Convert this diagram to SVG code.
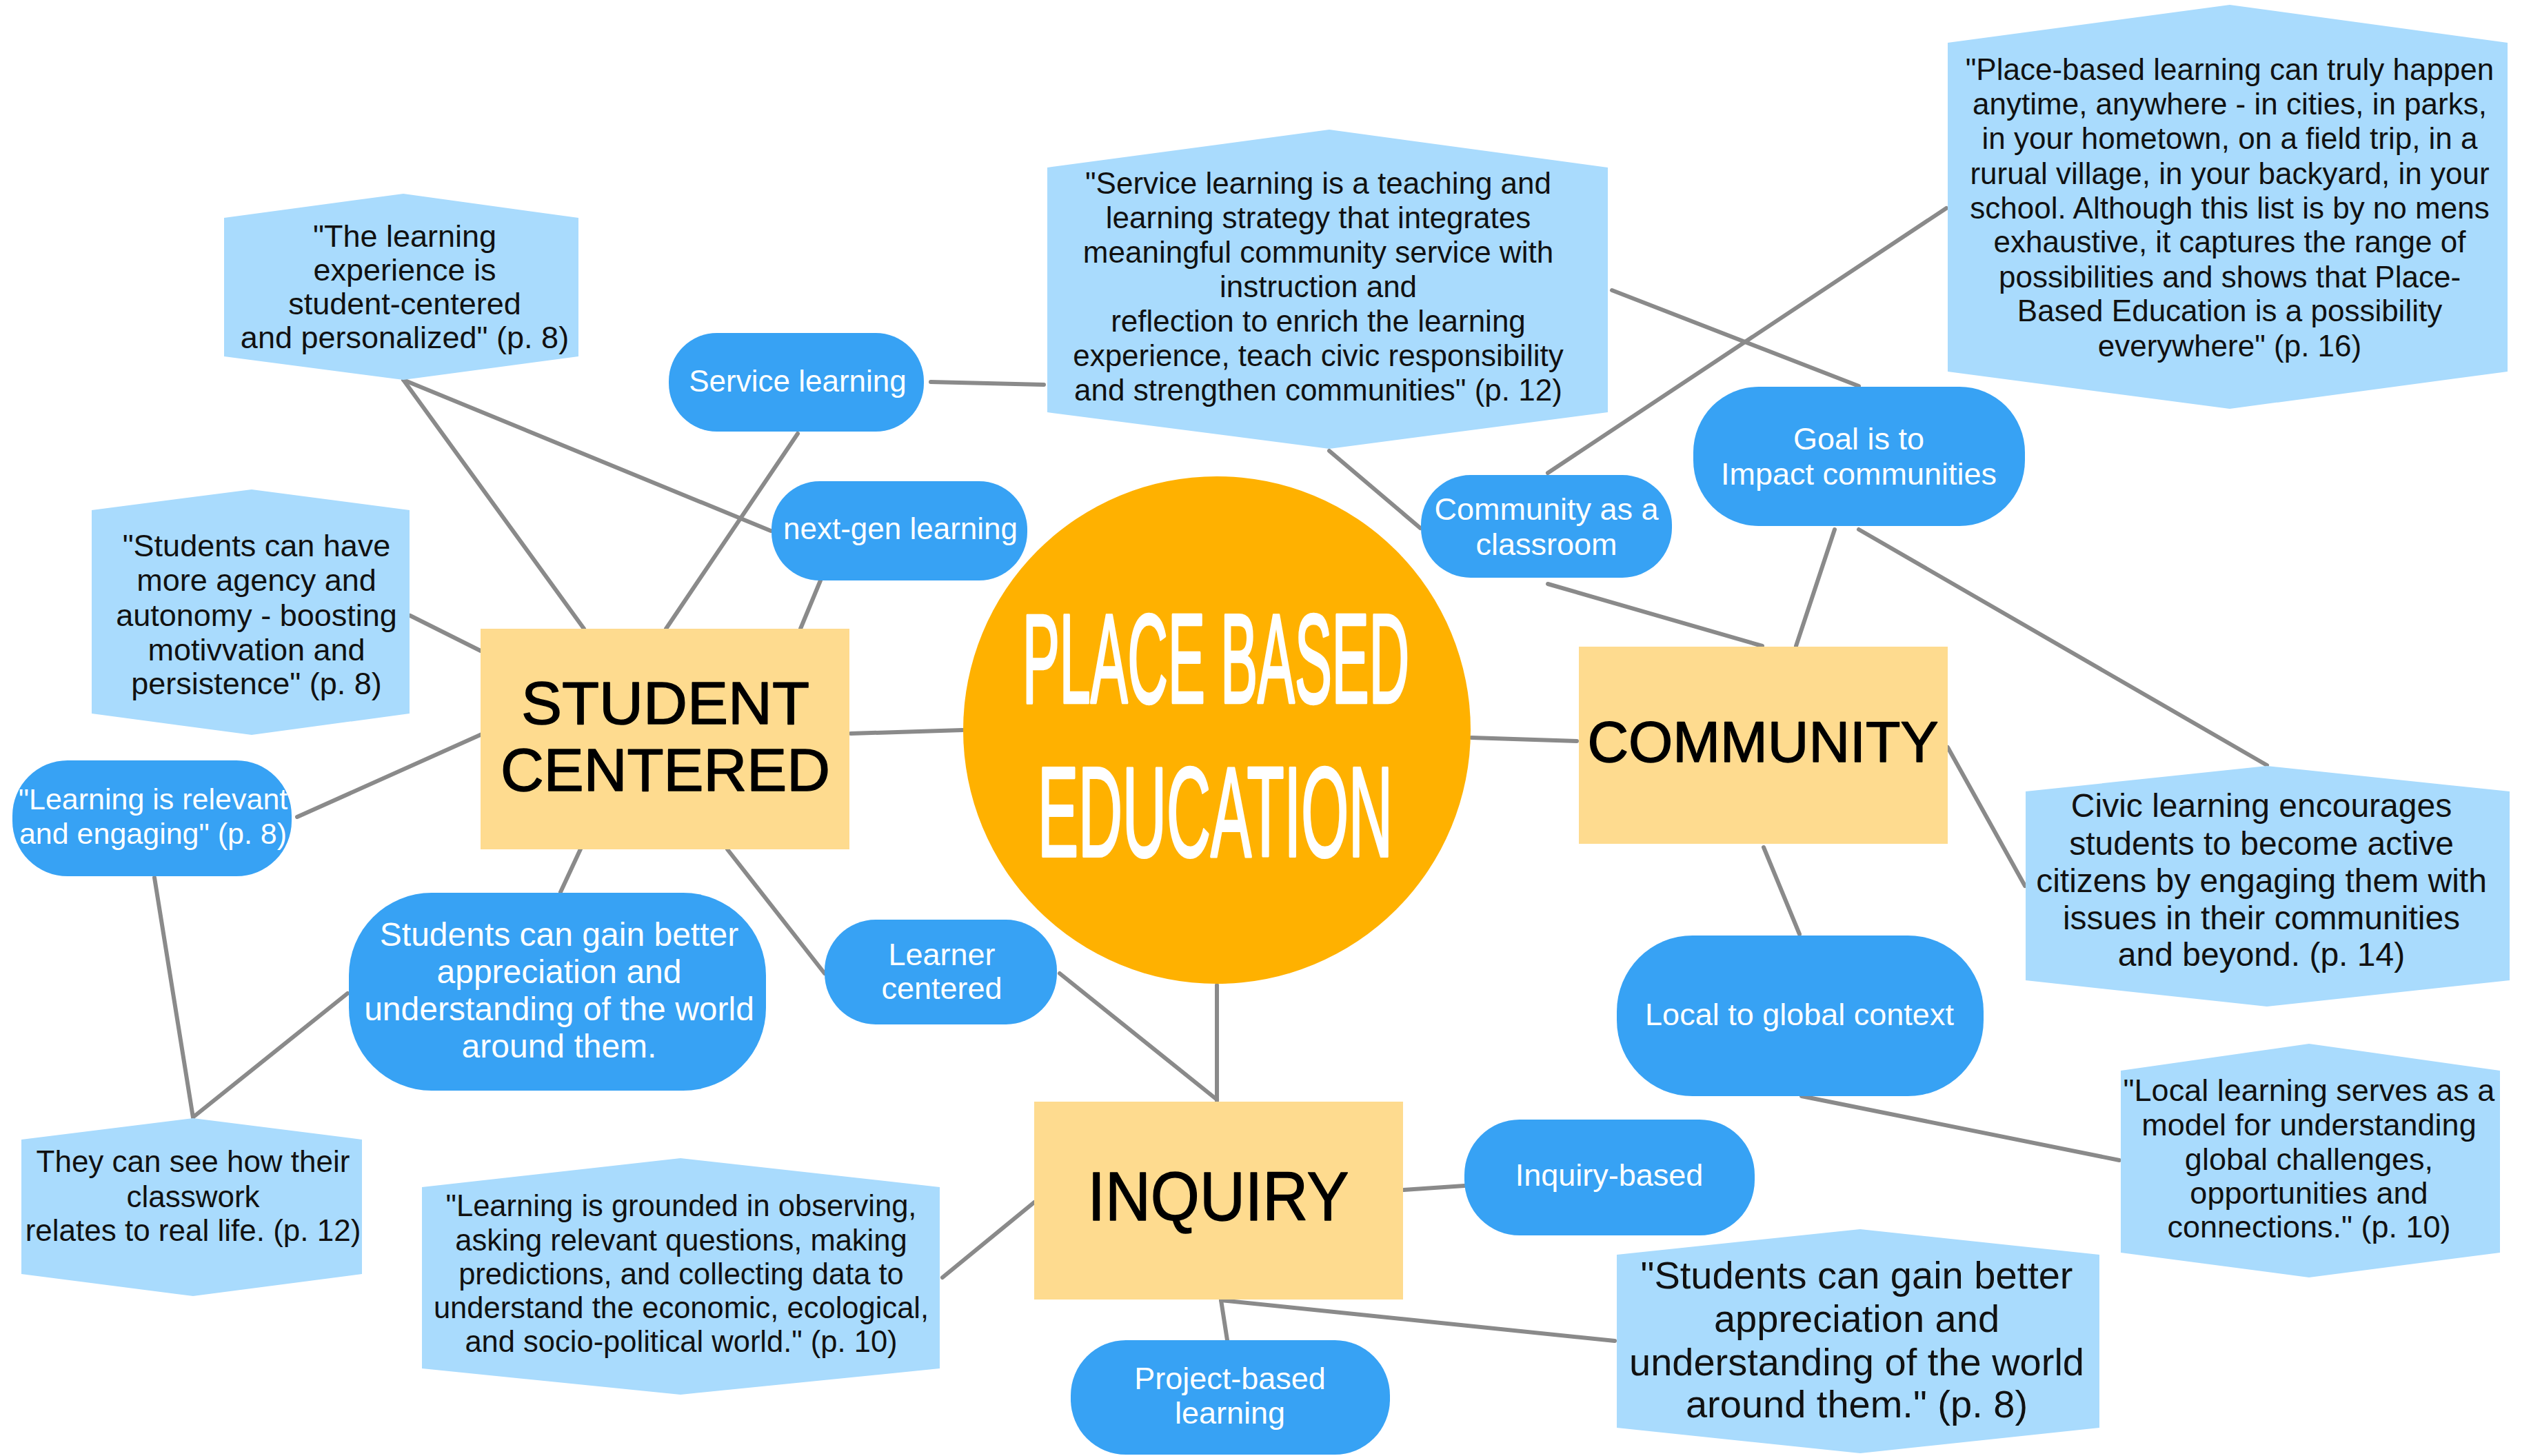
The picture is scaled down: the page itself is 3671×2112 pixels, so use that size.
<svg xmlns="http://www.w3.org/2000/svg" width="3671" height="2112" viewBox="0 0 3671 2112">
<style>
.hex{fill:#A9DBFD}
.pill{fill:#37A2F4}
.box{fill:#FEDB8F}
.q{font-family:"Liberation Sans",Arial,sans-serif;fill:#111;text-anchor:middle}
.pt{font-family:"Liberation Sans",Arial,sans-serif;fill:#fff;text-anchor:middle}
.ttl{font-family:"Liberation Sans",Arial,sans-serif;fill:#000;stroke:#000;stroke-width:1.5;stroke-linejoin:round;text-anchor:middle}
.big{font-family:"Liberation Sans",Arial,sans-serif;fill:#fff;stroke:#fff;stroke-width:2;stroke-linejoin:round}
.c line{stroke:#8a8a8a;stroke-width:6;stroke-linecap:round}
</style>
<rect width="3671" height="2112" fill="#fff"/>
<g class="c" id="connectors">
<line x1="585" y1="551" x2="847" y2="912"/>
<line x1="585" y1="551" x2="1118" y2="770"/>
<line x1="1157" y1="629" x2="966" y2="912"/>
<line x1="1190" y1="842" x2="1161" y2="912"/>
<line x1="595" y1="893" x2="697" y2="944"/>
<line x1="431" y1="1185" x2="701" y2="1064"/>
<line x1="1234" y1="1064" x2="1396" y2="1059"/>
<line x1="1350" y1="554" x2="1514" y2="558"/>
<line x1="1928" y1="654" x2="2060" y2="766"/>
<line x1="2338" y1="421" x2="2696" y2="560"/>
<line x1="2245" y1="686" x2="2823" y2="302"/>
<line x1="2245" y1="847" x2="2556" y2="937"/>
<line x1="2134" y1="1070" x2="2287" y2="1075"/>
<line x1="2661" y1="768" x2="2605" y2="937"/>
<line x1="2696" y1="768" x2="3288" y2="1110"/>
<line x1="2825" y1="1084" x2="2937" y2="1285"/>
<line x1="2558" y1="1229" x2="2610" y2="1355"/>
<line x1="2613" y1="1590" x2="3074" y2="1683"/>
<line x1="1771" y1="1886" x2="2342" y2="1945"/>
<line x1="1771" y1="1886" x2="1780" y2="1944"/>
<line x1="1765" y1="1429" x2="1765" y2="1597"/>
<line x1="1537" y1="1412" x2="1765" y2="1595"/>
<line x1="2036" y1="1726" x2="2124" y2="1720"/>
<line x1="1500" y1="1744" x2="1367" y2="1853"/>
<line x1="224" y1="1273" x2="280" y2="1621"/>
<line x1="282" y1="1619" x2="504" y2="1441"/>
<line x1="846" y1="1223" x2="813" y2="1294"/>
<line x1="1055" y1="1232" x2="1196" y2="1412"/>
</g>

<g id="center">
<circle cx="1765" cy="1059" r="368" fill="#FFB100"/>
<text class="big" x="1483" y="1019" font-size="81" textLength="561" lengthAdjust="spacingAndGlyphs" transform="matrix(1 0 0 2.26 0 -1283.9)">PLACE BASED</text>
<text class="big" x="1505" y="1242" font-size="87.5" textLength="515" lengthAdjust="spacingAndGlyphs" transform="matrix(1 0 0 2.12 0 -1391)">EDUCATION</text>
</g>

<g id="student-centered">
<rect class="box" x="697" y="912" width="535" height="320"/>
<text class="ttl" x="965" y="1050" font-size="88" textLength="418" lengthAdjust="spacingAndGlyphs">STUDENT</text>
<text class="ttl" x="965" y="1147" font-size="88" textLength="478" lengthAdjust="spacingAndGlyphs">CENTERED</text>
</g>
<g id="community">
<rect class="box" x="2290" y="938" width="535" height="286"/>
<text class="ttl" x="2557" y="1105" font-size="84" textLength="509" lengthAdjust="spacingAndGlyphs">COMMUNITY</text>
</g>
<g id="inquiry">
<rect class="box" x="1500" y="1598" width="535" height="287"/>
<text class="ttl" x="1767" y="1770" font-size="100" textLength="379" lengthAdjust="spacingAndGlyphs">INQUIRY</text>
</g>

<g id="q-learning-experience">
<polygon class="hex" points="325,316 585,281 839,316 839,517 585,551 325,517"/>
<text class="q" font-size="45"><tspan x="587" y="358">"The learning</tspan><tspan x="587" y="407">experience is</tspan><tspan x="587" y="456">student-centered</tspan><tspan x="587" y="505">and personalized" (p. 8)</tspan></text>
</g>
<g id="q-agency">
<polygon class="hex" points="133,740 365,710 594,740 594,1035 365,1066 133,1035"/>
<text class="q" font-size="45"><tspan x="372" y="807"> "Students can have</tspan><tspan x="372" y="857">more agency and</tspan><tspan x="372" y="908">autonomy - boosting</tspan><tspan x="372" y="958">motivvation and</tspan><tspan x="372" y="1007">persistence" (p. 8)</tspan></text>
</g>
<g id="q-service">
<polygon class="hex" points="1519,243 1928,188 2332,243 2332,598 1928,651 1519,598"/>
<text class="q" font-size="44"><tspan x="1912" y="281">"Service learning is a teaching and</tspan><tspan x="1912" y="331">learning strategy that integrates</tspan><tspan x="1912" y="381">meaningful community service with</tspan><tspan x="1912" y="431">instruction and</tspan><tspan x="1912" y="481">reflection to enrich the learning</tspan><tspan x="1912" y="531">experience, teach civic responsibility</tspan><tspan x="1912" y="581">and strengthen communities" (p. 12)</tspan></text>
</g>
<g id="q-anywhere">
<polygon class="hex" points="2825,62 3234,7 3637,62 3637,539 3234,593 2825,539"/>
<text class="q" font-size="44"><tspan x="3234" y="116">"Place-based learning can truly happen</tspan><tspan x="3234" y="166">anytime, anywhere - in cities, in parks,</tspan><tspan x="3234" y="216">in your hometown, on a field trip, in a</tspan><tspan x="3234" y="267">rurual village, in your backyard, in your</tspan><tspan x="3234" y="317">school. Although this list is by no mens</tspan><tspan x="3234" y="366">exhaustive, it captures the range of</tspan><tspan x="3234" y="417">possibilities and shows that Place-</tspan><tspan x="3234" y="466">Based Education is a possibility</tspan><tspan x="3234" y="517">everywhere" (p. 16)</tspan></text>
</g>
<g id="q-civic">
<polygon class="hex" points="2938,1148 3288,1111 3640,1148 3640,1422 3288,1460 2938,1422"/>
<text class="q" font-size="48"><tspan x="3280" y="1185">Civic learning encourages</tspan><tspan x="3280" y="1240">students to become active</tspan><tspan x="3280" y="1294">citizens by engaging them with</tspan><tspan x="3280" y="1348">issues in their communities</tspan><tspan x="3280" y="1401">and beyond.  (p. 14)</tspan></text>
</g>
<g id="q-local">
<polygon class="hex" points="3076,1553 3349,1514 3626,1553 3626,1817 3349,1853 3076,1817"/>
<text class="q" font-size="45"><tspan x="3349" y="1597">"Local learning serves as a</tspan><tspan x="3349" y="1647">model for understanding</tspan><tspan x="3349" y="1697">global challenges,</tspan><tspan x="3349" y="1746">opportunities and</tspan><tspan x="3349" y="1795">connections." (p. 10)</tspan></text>
</g>
<g id="q-appreciation">
<polygon class="hex" points="2345,1820 2698,1783 3045,1820 3045,2071 2698,2108 2345,2071"/>
<text class="q" font-size="56"><tspan x="2693" y="1869">"Students can gain better</tspan><tspan x="2693" y="1932">appreciation and</tspan><tspan x="2693" y="1995">understanding of the world</tspan><tspan x="2693" y="2056">around them." (p. 8)</tspan></text>
</g>
<g id="q-real-life">
<polygon class="hex" points="31,1653 280,1622 525,1653 525,1848 280,1880 31,1848"/>
<text class="q" font-size="44"><tspan x="280" y="1700">They can see how their</tspan><tspan x="280" y="1751">classwork</tspan><tspan x="280" y="1800">relates to real life. (p. 12)</tspan></text>
</g>
<g id="q-grounded">
<polygon class="hex" points="612,1722 987,1680 1363,1722 1363,1985 987,2023 612,1985"/>
<text class="q" font-size="43.5"><tspan x="988" y="1764">"Learning is grounded in observing,</tspan><tspan x="988" y="1814">asking relevant questions, making</tspan><tspan x="988" y="1863">predictions, and collecting data to</tspan><tspan x="988" y="1912">understand the economic, ecological,</tspan><tspan x="988" y="1961">and socio-political world." (p. 10)</tspan></text>
</g>

<g id="p-service-learning">
<rect class="pill" x="970" y="483" width="370" height="143" rx="70"/>
<text class="pt" x="1157" y="568" font-size="44">Service learning</text>
</g>
<g id="p-next-gen">
<rect class="pill" x="1119" y="698" width="371" height="144" rx="70"/>
<text class="pt" x="1306" y="782" font-size="44">next-gen learning</text>
</g>
<g id="p-community-classroom">
<rect class="pill" x="2061" y="689" width="364" height="149" rx="72"/>
<text class="pt" font-size="45"><tspan x="2243" y="754">Community as a</tspan><tspan x="2243" y="805">classroom</tspan></text>
</g>
<g id="p-goal">
<rect class="pill" x="2456" y="561" width="481" height="202" rx="95"/>
<text class="pt" font-size="45"><tspan x="2696" y="652">Goal is to</tspan><tspan x="2696" y="703">Impact communities</tspan></text>
</g>
<g id="p-relevant">
<rect class="pill" x="18" y="1103" width="405" height="168" rx="80"/>
<text class="pt" font-size="43"><tspan x="222" y="1174">"Learning is relevant</tspan><tspan x="222" y="1224">and engaging" (p. 8)</tspan></text>
</g>
<g id="p-appreciation">
<rect class="pill" x="506" y="1295" width="605" height="287" rx="120"/>
<text class="pt" font-size="48"><tspan x="811" y="1372">Students can gain better</tspan><tspan x="811" y="1426">appreciation and</tspan><tspan x="811" y="1480">understanding of the world</tspan><tspan x="811" y="1534">around them.</tspan></text>
</g>
<g id="p-learner-centered">
<rect class="pill" x="1196" y="1334" width="337" height="152" rx="74"/>
<text class="pt" font-size="45"><tspan x="1366" y="1400">Learner</tspan><tspan x="1366" y="1449">centered</tspan></text>
</g>
<g id="p-local-global">
<rect class="pill" x="2345" y="1357" width="532" height="233" rx="110"/>
<text class="pt" x="2610" y="1487" font-size="45">Local to global context</text>
</g>
<g id="p-inquiry-based">
<rect class="pill" x="2124" y="1624" width="421" height="168" rx="80"/>
<text class="pt" x="2334" y="1720" font-size="45">Inquiry-based</text>
</g>
<g id="p-project-based">
<rect class="pill" x="1553" y="1944" width="463" height="166" rx="80"/>
<text class="pt" font-size="45"><tspan x="1784" y="2015">Project-based</tspan><tspan x="1784" y="2065">learning</tspan></text>
</g>
</svg>
